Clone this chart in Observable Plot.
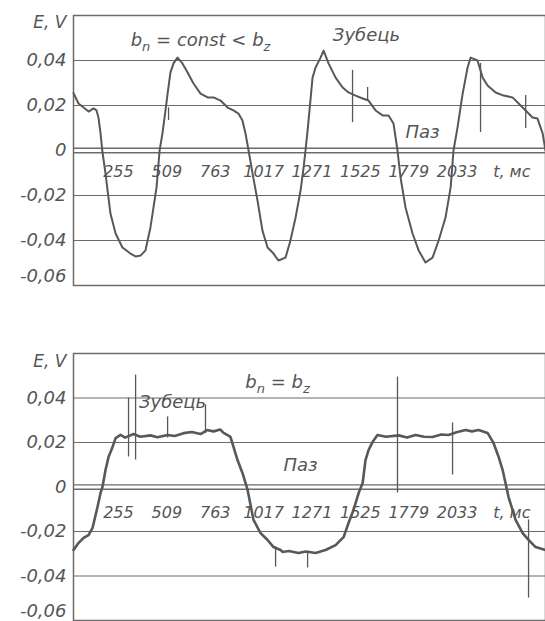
<!DOCTYPE html>
<html><head><meta charset="utf-8">
<script src="https://cdn.jsdelivr.net/npm/d3@7"></script>
<script src="https://cdn.jsdelivr.net/npm/@observablehq/plot@0.6"></script>
<style>
body{margin:0;background:#fff;}
#c{width:545px;}
#c svg{display:block;}
</style></head><body><div id="c"></div>
<script>
// x tick labels (t, ms) drawn inside the plot just below zero
const tickValues = [255, 509, 763, 1017, 1271, 1525, 1779, 2033];
const tickLabels = ["255", "509", "763", "1017", "1271", "1525", "1779", "2033"];
const xTitle = "t, мс";
const yTickValues = [0.04, 0.02, 0, -0.02, -0.04];
const yTickLabels = ["0,04", "0,02", "0", "-0,02", "-0,04"];
const yBottomValue = -0.06;
const yBottomLabel = "-0,06";
const yTitle = "E, V";
const gridValues = [0.04, 0.02, -0.02, -0.04];
const zeroBand = [0.001, -0.001];

// Panel 1: b_n = const < b_z
const topT = [19,45,72,98,124,140,150,161,170,187,198,213,240,276,318,345,371,397,408,423,439,455,471,486,502,513,528,544,565,591,618,649,686,723,754,791,828,859,885,906,922,938,959,985,1011,1038,1069,1095,1132,1158,1185,1211,1227,1237,1248,1258,1274,1290,1316,1332,1358,1395,1432,1463,1500,1537,1568,1605,1642,1673,1699,1720,1736,1762,1799,1831,1867,1904,1936,1972,1999,2014,2035,2062,2088,2104,2140,2167,2193,2235,2277,2324,2356,2393,2429,2455,2482,2497];
const topE = [0.0255,0.0209,0.0191,0.0173,0.0187,0.0178,0.0147,0.0076,0,-0.0102,-0.0178,-0.028,-0.0369,-0.0431,-0.0458,-0.0471,-0.0467,-0.0444,-0.04,-0.0342,-0.0253,-0.0164,0,0.0076,0.0178,0.0253,0.0347,0.0387,0.0413,0.0387,0.0347,0.0298,0.0253,0.0236,0.0236,0.0222,0.0191,0.0178,0.0164,0.0133,0.0076,0,-0.0102,-0.0222,-0.0356,-0.0431,-0.0458,-0.0489,-0.0476,-0.04,-0.0298,-0.0178,-0.0076,0,0.0089,0.0178,0.0324,0.0369,0.0413,0.0444,0.0387,0.0324,0.028,0.0258,0.0244,0.0231,0.0222,0.0178,0.0156,0.0156,0.012,0,-0.012,-0.0253,-0.0369,-0.0444,-0.0498,-0.0476,-0.04,-0.0298,-0.0164,0,0.0102,0.0253,0.0369,0.0413,0.04,0.0324,0.0289,0.0258,0.0244,0.0236,0.0209,0.0178,0.0147,0.0142,0.0076,0];
const topSpikeT = [518, 1484, 1563, 2156, 2393];
const topSpikeE1 = [0.019, 0.0356, 0.028, 0.0387, 0.0244];
const topSpikeE2 = [0.0133, 0.0124, 0.022, 0.008, 0.0098];
const topNotes = ["b_n = const < b_z", "Зубець", "Паз"];
const topNoteT = [686, 1557, 1851];
const topNoteE = [0.0489, 0.0511, 0.008];

// Panel 2: b_n = b_z
const botT = [19,45,72,98,119,145,161,171,187,203,224,240,266,290,334,370,423,460,513,550,597,640,686,720,754,790,807,830,843,859,880,906,922,933,964,1001,1038,1069,1106,1116,1150,1200,1240,1290,1342,1395,1437,1463,1489,1516,1537,1552,1568,1589,1615,1660,1726,1770,1815,1860,1904,1950,1988,2030,2077,2110,2146,2193,2224,2251,2272,2287,2303,2340,2377,2408,2445,2497];
const botE = [-0.0283,-0.0252,-0.0229,-0.0216,-0.0184,-0.009,-0.0027,0,0.0076,0.0135,0.018,0.022,0.0234,0.0222,0.0238,0.0226,0.0232,0.0224,0.0234,0.0229,0.0242,0.0247,0.0238,0.0256,0.025,0.0258,0.0243,0.0232,0.0225,0.018,0.0121,0.0063,0.0018,-0.0013,-0.0148,-0.0207,-0.0238,-0.027,-0.0283,-0.0292,-0.0288,-0.0297,-0.029,-0.0297,-0.0283,-0.0261,-0.0225,-0.0162,-0.0103,-0.0027,0.0018,0.0121,0.0166,0.0202,0.0234,0.0226,0.0232,0.0222,0.0234,0.0226,0.0225,0.0236,0.0234,0.0246,0.0256,0.025,0.0256,0.0243,0.0198,0.0135,0.0076,0.0018,-0.0045,-0.0148,-0.0207,-0.0238,-0.027,-0.0283];
const botSpikeT = [308, 345, 513, 712, 1080, 1248, 1720, 2009, 2408];
const botSpikeE1 = [0.04, 0.0503, 0.0315, 0.0369, -0.027, -0.029, 0.0494, 0.0288, -0.0148];
const botSpikeE2 = [0.0135, 0.0121, 0.022, 0.024, -0.036, -0.0364, -0.0027, 0.0054, -0.0499];
const botNotes = ["b_n = b_z", "Зубець", "Паз"];
const botNoteT = [1090, 539, 1211];
const botNoteE = [0.0472, 0.0382, 0.0099];

const INK = "#555";
const LINE = "#6b6b6b";
const FONT = "DejaVu Sans, sans-serif";

function panel({T, E, sT, s1, s2, nT, nE, notes, height, mt, mb, labelE, titleE, sw}) {
  const series = T.map((t, i) => ({t, e: E[i]}));
  const spikes = sT.map((t, i) => ({t, e1: s1[i], e2: s2[i]}));
  const ticks = tickValues.map((t, i) => ({t, label: tickLabels[i]}));
  const yt = yTickValues.map((v, i) => ({v, label: yTickLabels[i]}));
  const ann = notes.map((s, i) => ({s, t: nT[i], e: nE[i]}));
  const svg = Plot.plot({
    width: 545, height,
    marginLeft: 73, marginRight: 0, marginTop: mt, marginBottom: mb,
    x: {domain: [19, 2497], axis: null},
    y: {domain: [-0.06, 0.06], axis: null},
    style: {fontFamily: FONT, fontStyle: "italic", color: INK, background: "#fff", overflow: "visible"},
    marks: [
      Plot.ruleY(gridValues, {stroke: LINE, strokeWidth: 1.2}),
      Plot.ruleY(zeroBand, {stroke: LINE, strokeWidth: 1.3}),
      Plot.frame({stroke: LINE, strokeWidth: 1.5}),
      Plot.line(series, {x: "t", y: "e", stroke: "#585858", strokeWidth: sw}),
      Plot.ruleX(spikes, {x: "t", y1: "e1", y2: "e2", stroke: "#585858", strokeWidth: 1.3}),
      Plot.text(yt, {y: "v", text: "label", frameAnchor: "left", dx: -7, textAnchor: "end", fontSize: 18, fill: INK, fontWeight: 300}),
      Plot.text([yBottomLabel], {y: yBottomValue, text: d => d, frameAnchor: "left", dx: -7, dy: -9, textAnchor: "end", fontSize: 18, fill: INK, fontWeight: 300}),
      Plot.text([yTitle], {y: titleE, text: d => d, frameAnchor: "left", dx: -7, textAnchor: "end", fontSize: 17, fill: INK, fontWeight: 300}),
      Plot.text(ticks, {x: "t", y: labelE, text: "label", fontSize: 16, fill: INK, fontWeight: 300}),
      Plot.text([xTitle], {x: 2320, y: labelE, text: d => d, fontSize: 16, fill: INK, fontWeight: 300}),
      Plot.text(ann, {x: "t", y: "e", text: "s", fontSize: 18, fill: INK, fontWeight: 300})
    ]
  });
  // subscripts: "b_n" -> b with subscript n
  svg.querySelectorAll("text").forEach(el => {
    const s = el.textContent;
    if (!s.includes("_")) return;
    el.textContent = "";
    const parts = s.split(/_(\w)/);
    parts.forEach((p, i) => {
      if (!p) return;
      const ts = document.createElementNS("http://www.w3.org/2000/svg", "tspan");
      ts.textContent = p;
      if (i % 2 === 1) {
        ts.setAttribute("dy", "5");
        ts.setAttribute("font-size", "13");
      } else if (i > 0) {
        ts.setAttribute("dy", "-5");
      }
      el.appendChild(ts);
    });
  });
  return svg;
}

const c = document.getElementById("c");
c.appendChild(panel({T: topT, E: topE, sT: topSpikeT, s1: topSpikeE1, s2: topSpikeE2,
  nT: topNoteT, nE: topNoteE, notes: topNotes, height: 300, mt: 15, mb: 15,
  labelE: -0.0096, titleE: 0.0569, sw: 2}));
c.appendChild(panel({T: botT, E: botE, sT: botSpikeT, s1: botSpikeE1, s2: botSpikeE2,
  nT: botNoteT, nE: botNoteE, notes: botNotes, height: 321, mt: 53, mb: 1,
  labelE: -0.0115, titleE: 0.0562, sw: 2.6}));
</script>
</body></html>
